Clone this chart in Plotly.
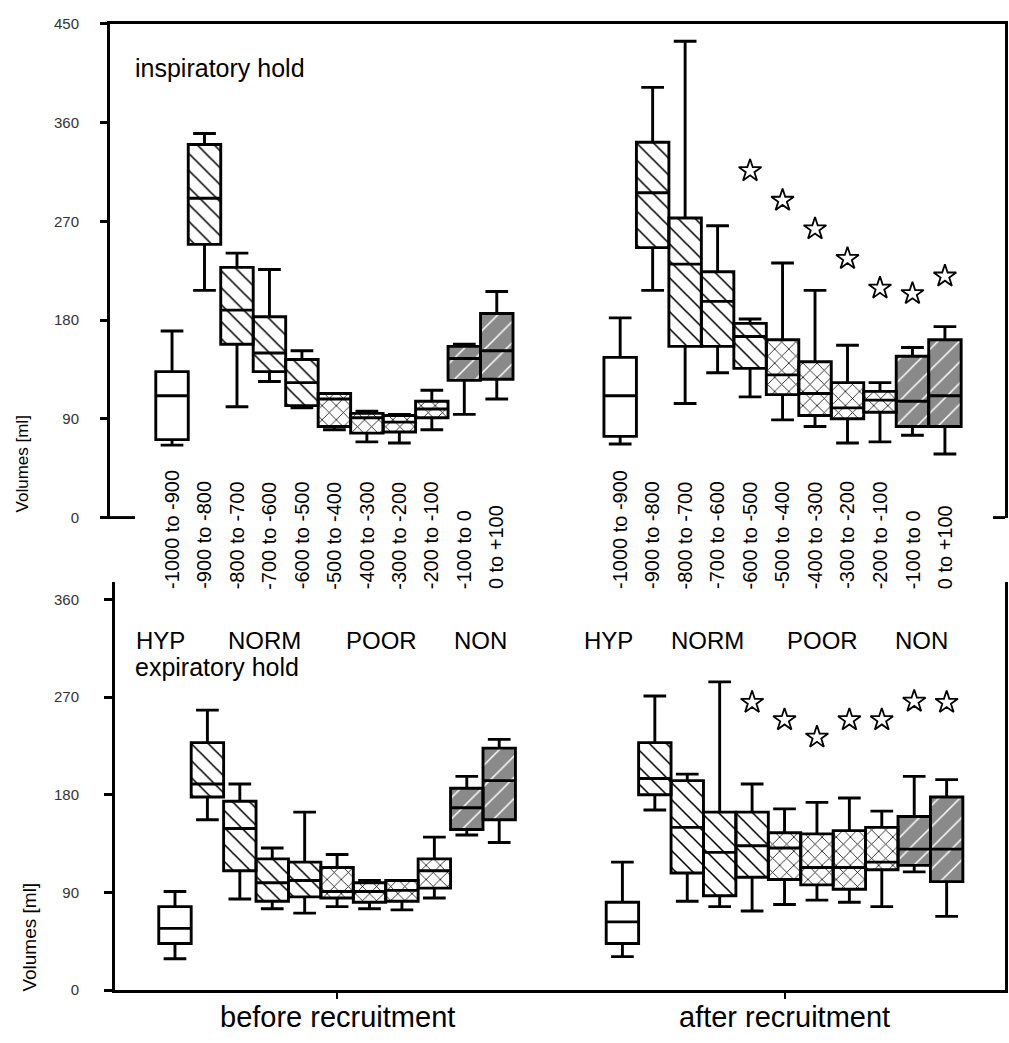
import plotly.graph_objects as go

# ---------------- data ----------------
categories = ["-1000 to -900", "-900 to -800", "-800 to -700", "-700 to -600",
              "-600 to -500", "-500 to -400", "-400 to -300", "-300 to -200",
              "-200 to -100", "-100 to 0", "0 to +100"]
groups = ["before recruitment", "after recruitment"]
classes = ["HYP", "NORM", "POOR", "NON"]

# inspiratory hold, before recruitment
insp_before_low = [66, 207, 101, 124, 100, 80, 69, 68, 80, 94, 108]
insp_before_q1 = [71, 249, 158, 133, 102, 83, 77, 78, 91, 125, 126]
insp_before_med = [111, 291, 189, 150, 123, 108, 91, 87, 99, 145, 152]
insp_before_q3 = [133, 340, 228, 183, 144, 113, 95, 93, 106, 156, 186]
insp_before_high = [170, 350, 241, 226, 152, 113, 97, 94, 116, 158, 206]

# inspiratory hold, after recruitment
insp_after_low = [67, 207, 104, 132, 110, 89, 83, 68, 69, 75, 58]
insp_after_q1 = [74, 246, 156, 156, 136, 112, 93, 90, 96, 83, 83]
insp_after_med = [111, 296, 231, 197, 165, 130, 113, 100, 107, 106, 111]
insp_after_q3 = [146, 342, 273, 224, 177, 162, 142, 123, 115, 147, 162]
insp_after_high = [182, 392, 434, 266, 181, 232, 207, 157, 123, 155, 174]

# expiratory hold, before recruitment
exp_before_low = [29, 157, 84, 75, 71, 77, 75, 74, 85, 143, 136]
exp_before_q1 = [43, 178, 110, 82, 86, 85, 81, 82, 94, 148, 157]
exp_before_med = [57, 190, 149, 99, 101, 91, 91, 92, 110, 168, 193]
exp_before_q3 = [77, 228, 174, 121, 118, 113, 99, 101, 121, 186, 223]
exp_before_high = [91, 258, 190, 131, 164, 125, 101, 101, 141, 197, 231]

# expiratory hold, after recruitment
exp_after_low = [31, 166, 82, 77, 73, 79, 83, 81, 77, 109, 68]
exp_after_q1 = [43, 180, 108, 87, 104, 102, 97, 93, 111, 115, 100]
exp_after_med = [63, 195, 150, 127, 133, 131, 113, 113, 118, 130, 130]
exp_after_q3 = [81, 228, 193, 164, 164, 145, 144, 147, 150, 160, 178]
exp_after_high = [118, 271, 199, 284, 190, 167, 173, 177, 165, 197, 194]

# significance stars (after recruitment), category index and height
insp_star_idx = [4, 5, 6, 7, 8, 9, 10]
insp_star_val = [316, 289, 263, 236, 209, 204, 220]
exp_star_idx = [4, 5, 6, 7, 8, 9, 10]
exp_star_val = [265, 249, 233, 249, 249, 266, 265]

y_ticks_insp = [0, 90, 180, 270, 360, 450]
y_ticks_exp = [0, 90, 180, 270, 360]

# fill style of each category
cat_style = ["open", "diag", "diag", "diag", "diag", "cross", "cross", "cross", "cross", "gray", "gray"]

# ---------------- styling ----------------
FONT = "Liberation Sans, Arial, sans-serif"
W, H = 1009, 1043
GROUP_OFFSET = 13.8
LW = 2.9
STYLES = {
    "open": dict(color="white", pattern=dict(shape="")),
    "diag": dict(color="white", pattern=dict(shape="\\", fgcolor="black", bgcolor="white",
                                             size=12, solidity=0.13, fillmode="replace")),
    "cross": dict(color="white", pattern=dict(shape="x", fgcolor="black", bgcolor="white",
                                              size=10, solidity=0.15, fillmode="replace")),
    "gray": dict(color="#8a8a8a", pattern=dict(shape="/", fgcolor="white", bgcolor="#8a8a8a",
                                               size=15, solidity=0.1, fillmode="replace")),
}


def py(px):
    return 1 - px / H


def px_x(px):
    return px / W


fig = go.Figure()

panels = [
    ("x", "y", [(insp_before_low, insp_before_q1, insp_before_med, insp_before_q3, insp_before_high),
                (insp_after_low, insp_after_q1, insp_after_med, insp_after_q3, insp_after_high)]),
    ("x2", "y2", [(exp_before_low, exp_before_q1, exp_before_med, exp_before_q3, exp_before_high),
                  (exp_after_low, exp_after_q1, exp_after_med, exp_after_q3, exp_after_high)]),
]

for xa, ya, sets in panels:
    for g, (low, q1, med, q3, high) in enumerate(sets):
        pos = [i + g * GROUP_OFFSET for i in range(len(categories))]
        for st, spec in STYLES.items():
            idx = [i for i, s in enumerate(cat_style) if s == st]
            fig.add_trace(go.Bar(
                x=[pos[i] for i in idx], base=[q1[i] for i in idx],
                y=[q3[i] - q1[i] for i in idx], width=1,
                marker=dict(color=spec["color"], line=dict(width=0), pattern=spec["pattern"]),
                xaxis=xa, yaxis=ya, hoverinfo="skip", showlegend=False))
        fig.add_trace(go.Box(
            x=pos, q1=q1, median=med, q3=q3, lowerfence=low, upperfence=high,
            width=1, whiskerwidth=0.7, fillcolor="rgba(0,0,0,0)",
            line=dict(color="black", width=LW), boxpoints=False,
            xaxis=xa, yaxis=ya, showlegend=False))

# stars
star_marker = dict(symbol="star-open", size=17, color="black", line=dict(width=1.8, color="black"))
fig.add_trace(go.Scatter(
    x=[i + GROUP_OFFSET for i in insp_star_idx], y=insp_star_val, mode="markers",
    marker=star_marker, xaxis="x", yaxis="y", showlegend=False))
fig.add_trace(go.Scatter(
    x=[i + GROUP_OFFSET for i in exp_star_idx], y=exp_star_val, mode="markers",
    marker=star_marker, xaxis="x2", yaxis="y2", showlegend=False))

axis_common = dict(showgrid=False, zeroline=False, linecolor="black", linewidth=LW)

fig.update_layout(
    width=W, height=H, margin=dict(l=0, r=0, t=0, b=0), autosize=False,
    paper_bgcolor="white", plot_bgcolor="white",
    boxmode="overlay", barmode="overlay", showlegend=False,
    font=dict(family=FONT, color="black"),
    xaxis=dict(domain=[px_x(110), px_x(1005)], range=[-1.91, 25.65], anchor="y",
               side="top", showline=True, showticklabels=False, ticks="", **axis_common),
    yaxis=dict(domain=[py(517), py(15)], range=[0, 450], anchor="x",
               tickvals=y_ticks_insp, showline=True, mirror=True, ticks="outside",
               ticklen=7, tickwidth=LW, tickcolor="black", ticklabelstandoff=18,
               tickfont=dict(size=15, color="#333333", family=FONT), **axis_common),
    xaxis2=dict(domain=[px_x(115), px_x(1005)], range=[-1.85, 25.6], anchor="y2",
                showline=True, ticks="outside", ticklen=6, tickwidth=2,
                tickcolor="black", tickvals=[5, 5 + GROUP_OFFSET], showticklabels=False,
                **axis_common),
    yaxis2=dict(domain=[py(997.5), py(583)], range=[0, 375.5], anchor="x2",
                tickvals=y_ticks_exp, showline=True, mirror=True, ticks="outside",
                ticklen=8, tickwidth=LW, tickcolor="black", ticklabelstandoff=22,
                tickfont=dict(size=15, color="#333333", family=FONT), **axis_common),
)

ann = []
# group labels under the lower panel
for g, lab in enumerate(groups):
    ann.append(dict(x=5 + g * GROUP_OFFSET, xref="x2", y=py(1043), yref="paper", text=lab,
                    showarrow=False, xanchor="center", yanchor="bottom",
                    font=dict(size=29, family=FONT, color="black")))
# category labels (rotated)
for g in range(2):
    for i, c in enumerate(categories):
        ann.append(dict(x=i + g * GROUP_OFFSET, xref="x", y=py(592), yref="paper",
                        text=c, textangle=-90, showarrow=False, xanchor="center",
                        yanchor="bottom", font=dict(size=20, family=FONT, color="black")))
# class labels
for xs in ([160, 264, 381, 480], [608, 707, 822, 921]):
    for xp, lab in zip(xs, classes):
        ann.append(dict(x=px_x(xp), xref="paper", y=py(642), yref="paper", text=lab,
                        showarrow=False, xanchor="center", yanchor="middle",
                        font=dict(size=24, family=FONT, color="black")))
ann.append(dict(x=px_x(133), xref="paper", y=py(60), yref="paper", text="inspiratory hold",
                showarrow=False, xanchor="left", yanchor="middle",
                font=dict(size=25, family=FONT, color="black")))
ann.append(dict(x=px_x(133), xref="paper", y=py(669), yref="paper", text="expiratory hold",
                showarrow=False, xanchor="left", yanchor="middle",
                font=dict(size=25, family=FONT, color="black")))
ann.append(dict(x=px_x(22), xref="paper", y=py(463), yref="paper", text="Volumes [ml]",
                textangle=-90, showarrow=False, xanchor="center", yanchor="middle",
                font=dict(size=17, family=FONT, color="black")))
ann.append(dict(x=px_x(30), xref="paper", y=py(944), yref="paper", text="Volumes [ml]",
                textangle=-90, showarrow=False, xanchor="center", yanchor="middle",
                font=dict(size=19, family=FONT, color="black")))
fig.update_layout(annotations=ann)

# small axis stubs at the lower ends of the top frame
fig.add_shape(type="line", xref="paper", yref="paper", x0=px_x(103), x1=px_x(135),
              y0=py(517), y1=py(517), line=dict(color="black", width=LW))
fig.add_shape(type="line", xref="paper", yref="paper", x0=px_x(993), x1=px_x(1005),
              y0=py(517), y1=py(517), line=dict(color="black", width=LW))

fig.write_html("out.html", config={"displayModeBar": False},
               post_script="document.body.style.margin='0px';"
                           "document.body.style.overflow='hidden';")
